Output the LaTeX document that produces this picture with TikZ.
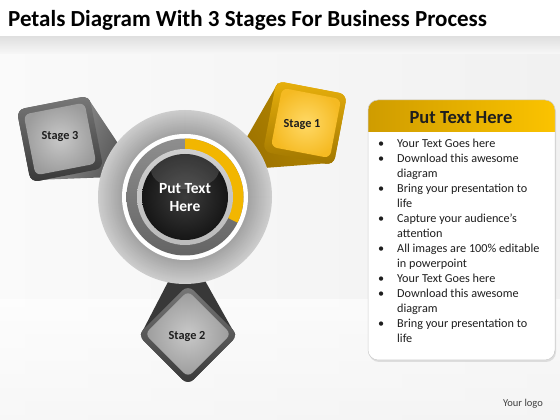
\documentclass[tikz,border=0pt]{standalone}
\usepackage{fontspec}
\setmainfont{Carlito}
\usetikzlibrary{calc}
\definecolor{txt}{HTML}{1E1E1E}
\definecolor{goldA}{HTML}{E8B00C}
\definecolor{goldB}{HTML}{A07600}
\definecolor{faceA}{HTML}{FFD966}
\definecolor{faceB}{HTML}{F5BA22}
\definecolor{fgL}{HTML}{B88A00}
\definecolor{fgM}{HTML}{F4C01E}
\definecolor{fgR}{HTML}{9A7000}
\definecolor{grA}{HTML}{787878}
\definecolor{grB}{HTML}{383838}
\definecolor{gfA}{HTML}{C8C8C8}
\definecolor{gfB}{HTML}{9C9C9C}
\definecolor{rA}{HTML}{A2A2A2}
\definecolor{rD}{HTML}{CDCDCD}
\definecolor{bandA}{HTML}{8E8E8E}
\definecolor{bandB}{HTML}{646464}
\definecolor{lrA}{HTML}{CFCFCF}
\definecolor{lrB}{HTML}{BBBBBB}
\definecolor{sphA}{HTML}{3C3C3C}
\definecolor{sphB}{HTML}{161616}
\definecolor{hdrL}{HTML}{CF9C00}
\definecolor{hdrR}{HTML}{FBC300}
\definecolor{yel}{HTML}{F2B600}
\tikzset{
  goldframe/.style={rounded corners=8pt, inner sep=0pt, top color=goldA, bottom color=goldB},
  goldface/.style={rounded corners=6pt, inner sep=0pt, inner color=faceA, outer color=faceB},
  grayframe/.style={rounded corners=8pt, inner sep=0pt, top color=grA, bottom color=grB},
  grayface/.style={rounded corners=6pt, inner sep=0pt, inner color=gfA, outer color=gfB},
  stagetxt/.style={font=\fontsize{12.3}{14}\selectfont\bfseries, text=txt, inner sep=0pt},
}
\begin{document}
\begin{tikzpicture}[x=1pt,y=1pt]
\useasboundingbox (0,0) rectangle (560,420);
% background
\fill[white] (0,0) rectangle (560,420);
\shade[top color=gray!24, bottom color=gray!5] (0,365) rectangle (560,383);
\shade[left color=gray!4, right color=gray!11] (0,0) rectangle (560,365.2);
\shade[top color=gray!0, bottom color=gray!7, opacity=0.6] (0,0) rectangle (560,120);
% title
\node[anchor=base west, inner sep=0pt, font=\fontsize{23}{27}\selectfont\bfseries, text=black] (title) at (8,393) {Petals Diagram With 3 Stages For Business Process};
% centre
\coordinate (C) at (185,223);
% stage squares (outer frames)
\node[goldframe, rotate=-10.8, minimum size=72pt] (s1o) at (305,297) {};
\node[grayframe, rotate=11, minimum size=74pt] (s3o) at (60,281) {};
\node[grayframe, rotate=45, minimum size=71pt] (s2o) at (188,85) {};
% apexes
\coordinate (a1) at ($(C)!50pt!(s1o.center)$);
\coordinate (a3) at ($(C)!50pt!(s3o.center)$);
\coordinate (a2) at ($(C)!50pt!(s2o.center)$);
% funnels
\shade[left color=fgL, middle color=fgM, right color=fgR, shading angle=-58]
  (a1) -- ($(s1o.north west)!3pt!(s1o.center)$) -- ($(s1o.south east)!3pt!(s1o.center)$) -- cycle;
\shade[left color=grB!90, middle color=grA, right color=gray!70, shading angle=245]
  (a3) -- ($(s3o.north east)!3pt!(s3o.center)$) -- ($(s3o.south west)!3pt!(s3o.center)$) -- cycle;
\shade[left color=grB, middle color=gray!60, right color=grB, shading angle=0]
  (a2) -- ($(s2o.north west)!3pt!(s2o.center)$) -- ($(s2o.south east)!3pt!(s2o.center)$) -- cycle;
% redraw frames over funnels
\node[goldframe, rotate=-10.8, minimum size=72pt] (s1f) at (305,297) {};
\node[grayframe, rotate=11, minimum size=74pt] (s3f) at (60,281) {};
\node[grayframe, rotate=45, minimum size=71pt] (s2f) at (188,85) {};
% faces
\node[goldface, rotate=-10.8, minimum size=60pt] (s1i) at (306,297) {};
\node[grayface, rotate=11, minimum size=62pt] (s3i) at (60,281) {};
\node[grayface, rotate=45, minimum size=61pt] (s2i) at (188,86) {};
\node[stagetxt] (t1) at (302,295) {Stage 1};
\node[stagetxt] (t3) at (60,283) {Stage 3};
\node[stagetxt] (t2) at (187,83.5) {Stage 2};
% outer ring as stepped gradient
\foreach \rr in {87,86,...,63} {
  \pgfmathtruncatemacro{\rt}{(\rr-63)/24*100}
  \fill[rD!\rt!rA] (C) circle (\rr);
}
\fill[white] (C) circle (63);
\shade[top color=bandA, bottom color=bandB] (C) circle (58.5);
\fill[yel] (C) -- ++(90:58.5) arc[start angle=90, end angle=-26, radius=58.5] -- cycle;
\shade[top color=lrA, bottom color=lrB] (C) circle (48);
\shade[inner color=sphA, outer color=sphB] (C) circle (43);
\begin{scope}
\clip (C) circle (43);
\fill[white, opacity=0.14] ($(C)+(0,27)$) ellipse (34 and 19);
\end{scope}
\node[font=\fontsize{15.5}{18.5}\selectfont\bfseries, text=white, align=center, inner sep=0pt] (ctr) at (185,222.5) {Put Text\\Here};
% right panel
\fill[gray!40, opacity=0.6, rounded corners=10pt] (369,58) rectangle (556,318);
\begin{scope}
\clip[rounded corners=10pt] (368,60) rectangle (555,320);
\fill[white] (368,60) rectangle (555,320);
\shade[left color=hdrL, right color=hdrR] (368,288) rectangle (555,320);
\end{scope}
\draw[gray!40, line width=0.5pt, rounded corners=10pt] (368,60) rectangle (555,320);
\node[font=\fontsize{18.5}{22}\selectfont\bfseries, text=txt, inner sep=0pt] (ptitle) at (461,302) {Put Text Here};
\node[anchor=north west, inner sep=0pt, font=\fontsize{12.2}{15}\selectfont, text=txt] (list) at (378,283.5) {%
\begin{tabular}{@{}p{19pt}@{}l@{}}
\textbullet & Your Text Goes here\\
\textbullet & Download this awesome\\
 & diagram\\
\textbullet & Bring your presentation to\\
 & life\\
\textbullet & Capture your audience’s\\
 & attention\\
\textbullet & All images are 100\% editable\\
 & in powerpoint\\
\textbullet & Your Text Goes here\\
\textbullet & Download this awesome\\
 & diagram\\
\textbullet & Bring your presentation to\\
 & life
\end{tabular}};
\node[font=\fontsize{10.5}{12}\selectfont, text=txt!85, inner sep=0pt] (logo) at (523,16) {Your logo};
\end{tikzpicture}
\end{document}
